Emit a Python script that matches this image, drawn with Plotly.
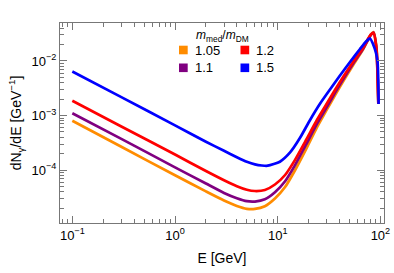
import plotly.graph_objects as go

# ---------------- data ----------------
E_blue = [0.1, 0.3, 1, 2, 3, 4, 5, 6, 7, 8, 10.5, 13.2, 16.5, 20.6, 25.8, 32.3,
          40.4, 50.6, 63.3, 72.5, 79.3, 84.7, 90.6, 93.8, 95.3, 96.0]
V_blue = [6.4e-3, 2.17e-3, 6.6e-4, 3.3e-4, 2.25e-4, 1.72e-4, 1.42e-4, 1.27e-4,
          1.21e-4, 1.2e-4, 1.42e-4, 2.1e-4, 3.9e-4, 8.2e-4, 1.64e-3, 3.0e-3,
          5.4e-3, 9.6e-3, 1.66e-2, 2.28e-2, 2.59e-2, 2.05e-2, 1.40e-2, 9.6e-3,
          4.5e-3, 1.63e-3]

E_other = [0.1, 0.3, 1, 2, 3, 4, 5, 6.0, 7.5, 9.4, 11.8, 14.7, 18.9, 24.1, 29.5,
           36.1, 44.6, 54.1, 67.5, 76.6, 80.9, 85.7, 91.6, 93.8, 95.5]
V_red = [1.87e-3, 6.3e-4, 1.92e-4, 9.6e-5, 6.5e-5, 5.05e-5, 4.35e-5, 4.12e-5,
         4.3e-5, 5.42e-5, 8.1e-5, 1.52e-4, 3.55e-4, 8.26e-4, 1.56e-3, 2.94e-3,
         5.53e-3, 9.6e-3, 1.73e-2, 2.64e-2, 3.06e-2, 3.27e-2, 1.59e-2, 5.53e-3, 1.63e-3]
V_purple = [1.1e-3, 3.73e-4, 1.12e-4, 5.65e-5, 3.8e-5, 3.04e-5, 2.68e-5, 2.64e-5,
            2.91e-5, 3.91e-5, 6.23e-5, 1.22e-4, 2.94e-4, 7.05e-4, 1.34e-3, 2.6e-3,
            5.03e-3, 8.9e-3, 1.65e-2, 2.56e-2, 3.03e-2, 3.32e-2, 1.68e-2, 5.8e-3, 1.65e-3]
V_orange = [8.0e-4, 2.67e-4, 8.0e-5, 4.05e-5, 2.76e-5, 2.19e-5, 1.94e-5, 1.93e-5,
            2.17e-5, 3.0e-5, 4.87e-5, 9.8e-5, 2.42e-4, 6.06e-4, 1.2e-3, 2.35e-3,
            4.6e-3, 8.35e-3, 1.6e-2, 2.54e-2, 3.08e-2, 3.4e-2, 1.8e-2, 6.2e-3, 1.7e-3]

ratios = ["1.05", "1.1", "1.2", "1.5"]
colors = ["#FF8C00", "#800080", "#FF0000", "#0000FF"]

x_tickvals = [0.1, 1, 10, 100]
x_ticktext = ["10<sup>−1</sup>", "10<sup>0</sup>", "10<sup>1</sup>", "10<sup>2</sup>"]
y_tickvals = [1e-2, 1e-3, 1e-4]
y_ticktext = ["10<sup>−2</sup>", "10<sup>−3</sup>", "10<sup>−4</sup>"]

x_minor = [m * 10.0 ** p for p in (-2, -1, 0, 1) for m in range(2, 10)]
y_minor = [m * 10.0 ** p for p in (-5, -4, -3, -2) for m in range(2, 10)]

# ---------------- figure ----------------
W, H = 394, 273
ML, MR, MT, MB = 60, 10, 23, 50
FONT = "Liberation Sans, Arial, sans-serif"

series = [(E_other, V_orange), (E_other, V_purple), (E_other, V_red), (E_blue, V_blue)]

fig = go.Figure()
for (ex, vy), name, col in zip(series, ratios, colors):
    fig.add_trace(go.Scatter(x=ex, y=vy, mode="lines", name=name,
                             line=dict(color=col, width=2.7, shape="spline", smoothing=0.6),
                             showlegend=False))

axis_common = dict(
    type="log", showgrid=False, zeroline=False,
    showline=True, linecolor="#777777", linewidth=1, mirror="allticks",
    ticks="inside", ticklen=7, tickcolor="#777777", tickwidth=1,
    tickfont=dict(family=FONT, size=13, color="black"),
    tickmode="array", ticklabeloverflow="allow",
    minor=dict(ticks="inside", ticklen=4, tickcolor="#777777", tickwidth=1,
               showgrid=False, tickmode="array"),
)

fig.update_xaxes(**axis_common)
fig.update_xaxes(range=[-1.120, 2.035], tickvals=x_tickvals, ticktext=x_ticktext,
                 minor_tickvals=x_minor,
                 title=dict(text="E [GeV]", font=dict(family=FONT, size=14, color="black"),
                            standoff=11))
fig.update_yaxes(**axis_common)
fig.update_yaxes(range=[-4.972, -1.303], tickvals=y_tickvals, ticktext=y_ticktext,
                 minor_tickvals=y_minor,
                 title=dict(text="dN<sub>γ</sub>/dE [GeV<sup>−1</sup>]",
                            font=dict(family=FONT, size=14, color="black"),
                            standoff=6))

# manual legend (two columns)
PW, PH = W - ML - MR, H - MT - MB
def px(x):
    return (x - ML) / PW
def py(y):
    return (H - MB - y) / PH

shapes = []
annos = [dict(text="<i>m</i><sub>med</sub>/<i>m</i><sub>DM</sub>", x=px(222.5), y=py(36),
              xref="paper", yref="paper", showarrow=False, xanchor="center", yanchor="middle",
              font=dict(family=FONT, size=12, color="black"))]
legend_pos = {"1.05": (179, 50), "1.1": (179, 67.8), "1.2": (240.5, 50), "1.5": (240.5, 67.8)}
for name, col in zip(ratios, colors):
    lx, ly = legend_pos[name]
    shapes.append(dict(type="rect", xref="paper", yref="paper",
                       x0=px(lx), x1=px(lx + 8.7), y0=py(ly - 4.3), y1=py(ly + 4.3),
                       fillcolor=col, line=dict(width=0)))
    annos.append(dict(text=name, x=px(lx + 13.5), y=py(ly), xref="paper", yref="paper",
                      showarrow=False, xanchor="left", yanchor="middle",
                      font=dict(family=FONT, size=13, color="black")))

fig.update_layout(
    width=W, height=H,
    margin=dict(l=ML, r=MR, t=MT, b=MB, autoexpand=False),
    paper_bgcolor="white", plot_bgcolor="white",
    font=dict(family=FONT),
    shapes=shapes, annotations=annos,
    showlegend=False,
)

fig.write_html("out.html", config={"displayModeBar": False},
               post_script="document.body.style.margin='0';document.body.style.padding='0';")
